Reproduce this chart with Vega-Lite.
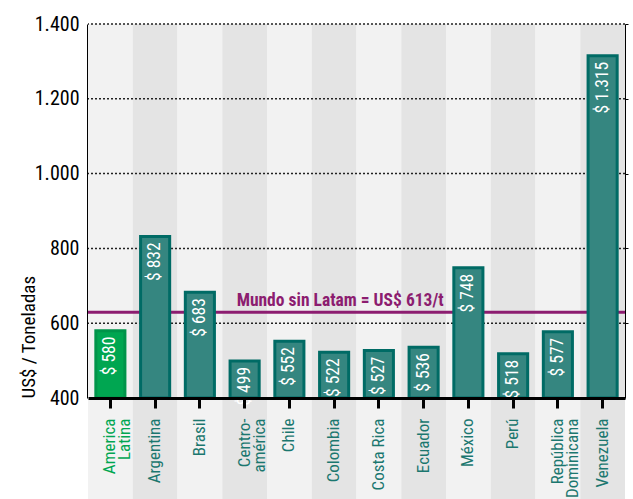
{
  "$schema": "https://vega.github.io/schema/vega-lite/v6.json",
  "width": 537,
  "height": 374,
  "autosize": {"type": "none"},
  "padding": {"left": 88, "top": 24, "right": 8, "bottom": 101},
  "background": "white",
  "config": {
    "view": {"stroke": null},
    "locale": {"number": {"decimal": ",", "thousands": ".", "grouping": [3], "currency": ["$ ", ""]}},
    "font": "'Liberation Sans Narrow', 'Roboto Condensed', 'DejaVu Sans Condensed', Roboto, sans-serif"
  },
  "datasets": {
    "precios": [
      {"pais": "America Latina", "valor": 580},
      {"pais": "Argentina", "valor": 832},
      {"pais": "Brasil", "valor": 683},
      {"pais": "Centroamérica", "valor": 499},
      {"pais": "Chile", "valor": 552},
      {"pais": "Colombia", "valor": 522},
      {"pais": "Costa Rica", "valor": 527},
      {"pais": "Ecuador", "valor": 536},
      {"pais": "México", "valor": 748},
      {"pais": "Perú", "valor": 518},
      {"pais": "República Dominicana", "valor": 577},
      {"pais": "Venezuela", "valor": 1315}
    ],
    "grilla": [{"g": 600}, {"g": 800}, {"g": 1000}, {"g": 1200}, {"g": 1400}]
  },
  "resolve": {"axis": {"y": "independent"}},
  "layer": [
    {
      "data": {"name": "precios"},
      "transform": [{"window": [{"op": "row_number", "as": "idx"}]}],
      "mark": {"type": "rect", "clip": false},
      "encoding": {
        "x": {
          "field": "pais", "type": "nominal", "sort": null,
          "scale": {"paddingInner": 0, "paddingOuter": 0},
          "axis": {
            "orient": "bottom", "title": null,
            "domainColor": "black", "domainWidth": 3,
            "tickColor": "black", "tickWidth": 3, "tickSize": 10,
            "labelAngle": 270, "labelAlign": "right", "labelBaseline": "middle",
            "labelPadding": 10, "labelFontSize": 17, "labelLineHeight": 15,
            "labelOverlap": false, "labelBound": false,
            "labelFont": "'Liberation Sans Narrow', 'Roboto Condensed', 'DejaVu Sans Condensed', Roboto, sans-serif",
            "labelColor": {"condition": {"test": "datum.value == 'America Latina'", "value": "#00a651"}, "value": "#1b776f"},
            "labelExpr": "datum.value == 'America Latina' ? ['America', 'Latina'] : datum.value == 'Centroamérica' ? ['Centro-', 'américa'] : datum.value == 'República Dominicana' ? ['República', 'Dominicana'] : datum.value"
          }
        },
        "y": {"datum": 1400, "type": "quantitative", "scale": {"domain": [400, 1400], "nice": false, "zero": false}, "axis": null},
        "y2": {"datum": 120},
        "color": {"condition": {"test": "datum.idx % 2 == 0", "value": "#e4e4e4"}, "value": "#f2f2f2"}
      }
    },
    {
      "data": {"name": "grilla"},
      "mark": {"type": "rule", "color": "#222222", "strokeWidth": 1.5, "strokeDash": [2, 2]},
      "encoding": {
        "y": {
          "field": "g", "type": "quantitative",
          "axis": {
            "orient": "right", "labels": false, "grid": false, "title": null,
            "domainColor": "black", "domainWidth": 1,
            "ticks": true, "tickColor": "black", "tickSize": 3, "tickWidth": 1,
            "values": [600, 800, 1000, 1200, 1400]
          }
        }
      }
    },
    {
      "data": {"values": [{"mundo": 629, "etiqueta": "Mundo sin Latam = US$ 613/t"}]},
      "mark": {"type": "rule", "color": "#8c1d70", "strokeWidth": 3},
      "encoding": {
        "y": {"field": "mundo", "type": "quantitative", "axis": null}
      }
    },
    {
      "data": {"values": [{"mundo": 629, "etiqueta": "Mundo sin Latam = US$ 613/t", "pos": "Colombia"}]},
      "mark": {"type": "text", "color": "#8c1d70", "fontSize": 17.5, "fontWeight": "bold", "align": "center", "baseline": "alphabetic", "dy": -6, "dx": 6},
      "encoding": {
        "x": {"field": "pos", "type": "nominal", "sort": null},
        "y": {"field": "mundo", "type": "quantitative", "axis": null},
        "text": {"field": "etiqueta"}
      }
    },
    {
      "data": {"name": "precios"},
      "mark": {"type": "bar", "width": {"band": 0.65}, "strokeWidth": 3},
      "encoding": {
        "x": {"field": "pais", "type": "nominal", "sort": null},
        "y": {
          "field": "valor", "type": "quantitative",
          "axis": {
            "orient": "left", "grid": false, "ticks": false,
            "domainColor": "black", "domainWidth": 3,
            "values": [400, 600, 800, 1000, 1200, 1400], "format": ",d",
            "labelFontSize": 20, "labelColor": "black", "labelPadding": 9,
            "labelFont": "'Liberation Sans Narrow', 'Roboto Condensed', 'DejaVu Sans Condensed', Roboto, sans-serif",
            "title": "US$ / Toneladas", "titleFontSize": 19, "titleFontWeight": "normal",
            "titleColor": "black", "titleFont": "'Liberation Sans Narrow', 'Roboto Condensed', 'DejaVu Sans Condensed', Roboto, sans-serif",
            "titleAngle": 270, "titleX": -60, "titleY": 374, "titleAlign": "left", "titleBaseline": "middle"
          }
        },
        "y2": {"datum": 400},
        "fill": {"condition": {"test": "datum.pais == 'America Latina'", "value": "#00a651"}, "value": "#358680"},
        "stroke": {"condition": {"test": "datum.pais == 'America Latina'", "value": "#00944a"}, "value": "#006b65"}
      }
    },
    {
      "data": {"name": "precios"},
      "mark": {"type": "text", "angle": 270, "align": "right", "baseline": "middle", "dx": -6, "fontSize": 17.5, "color": "white"},
      "encoding": {
        "x": {"field": "pais", "type": "nominal", "sort": null},
        "y": {"field": "valor", "type": "quantitative", "axis": null},
        "text": {"field": "valor", "type": "quantitative", "format": "$,d"}
      }
    }
  ]
}
